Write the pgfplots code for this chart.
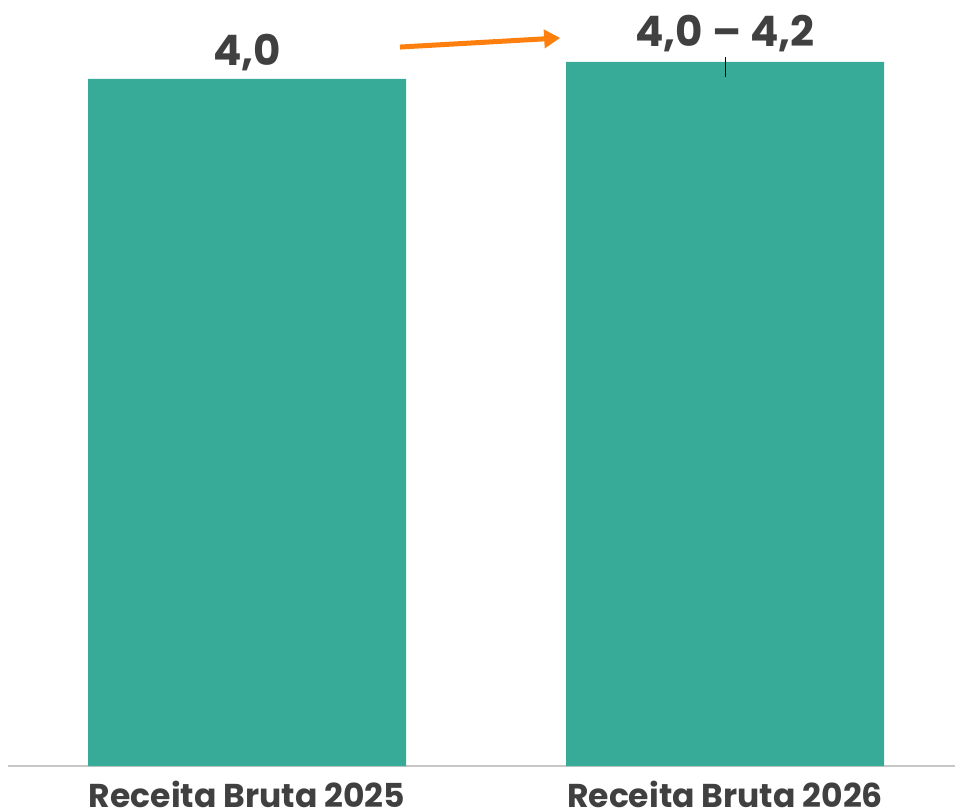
\documentclass[border=0pt]{standalone}
\usepackage{pgfplots}
\pgfplotsset{compat=1.18}
\usepackage{fontspec}
\setmainfont{Poppins}[BoldFont={* Bold}]
\usetikzlibrary{arrows.meta}
\definecolor{barteal}{RGB}{56,171,152}
\definecolor{txtgray}{RGB}{64,64,64}
\definecolor{arroworange}{RGB}{255,127,14}
\begin{document}
\begin{tikzpicture}
\begin{axis}[
  scale only axis,
  width=947pt, height=766pt,
  xmin=-0.5, xmax=1.481,
  ymin=0, ymax=4.46,
  axis y line=none,
  axis x line*=bottom,
  x axis line style={draw=black!22, line width=1.5pt},
  xtick={0,1},
  xticklabels={Receita Bruta 2025, Receita Bruta 2026},
  major tick length=0pt,
  ytick=\empty,
  xticklabel style={anchor=north, inner sep=0pt, yshift=-15pt, font=\fontsize{33}{36}\selectfont\bfseries, text=txtgray},
  clip=false,
]
\addplot[ybar, bar width=318pt, fill=barteal, draw=none,
  error bars/.cd, y dir=both, y explicit, error mark=none,
  error bar style={black, line width=1pt}]
  coordinates {(0,4.0) +- (0,0) (1,4.1) += (0,0.028) -= (0,0.088)};
\node[anchor=base, inner sep=0pt, text=txtgray, font=\fontsize{42}{46}\selectfont\bfseries] at (axis cs:0,4.08) {4,0};
\node[anchor=base, inner sep=0pt, text=txtgray, font=\fontsize{42}{46}\selectfont\bfseries] at (axis cs:1,4.19) {4,0 – 4,2};
\draw[arroworange, line width=5pt, -{Triangle[length=16pt,width=18pt]}] (axis cs:0.32,4.186) -- (axis cs:0.655,4.239);
\end{axis}
\pgfresetboundingbox
\path (-8pt,-45pt) rectangle (947pt,766pt);
\end{tikzpicture}
\end{document}
